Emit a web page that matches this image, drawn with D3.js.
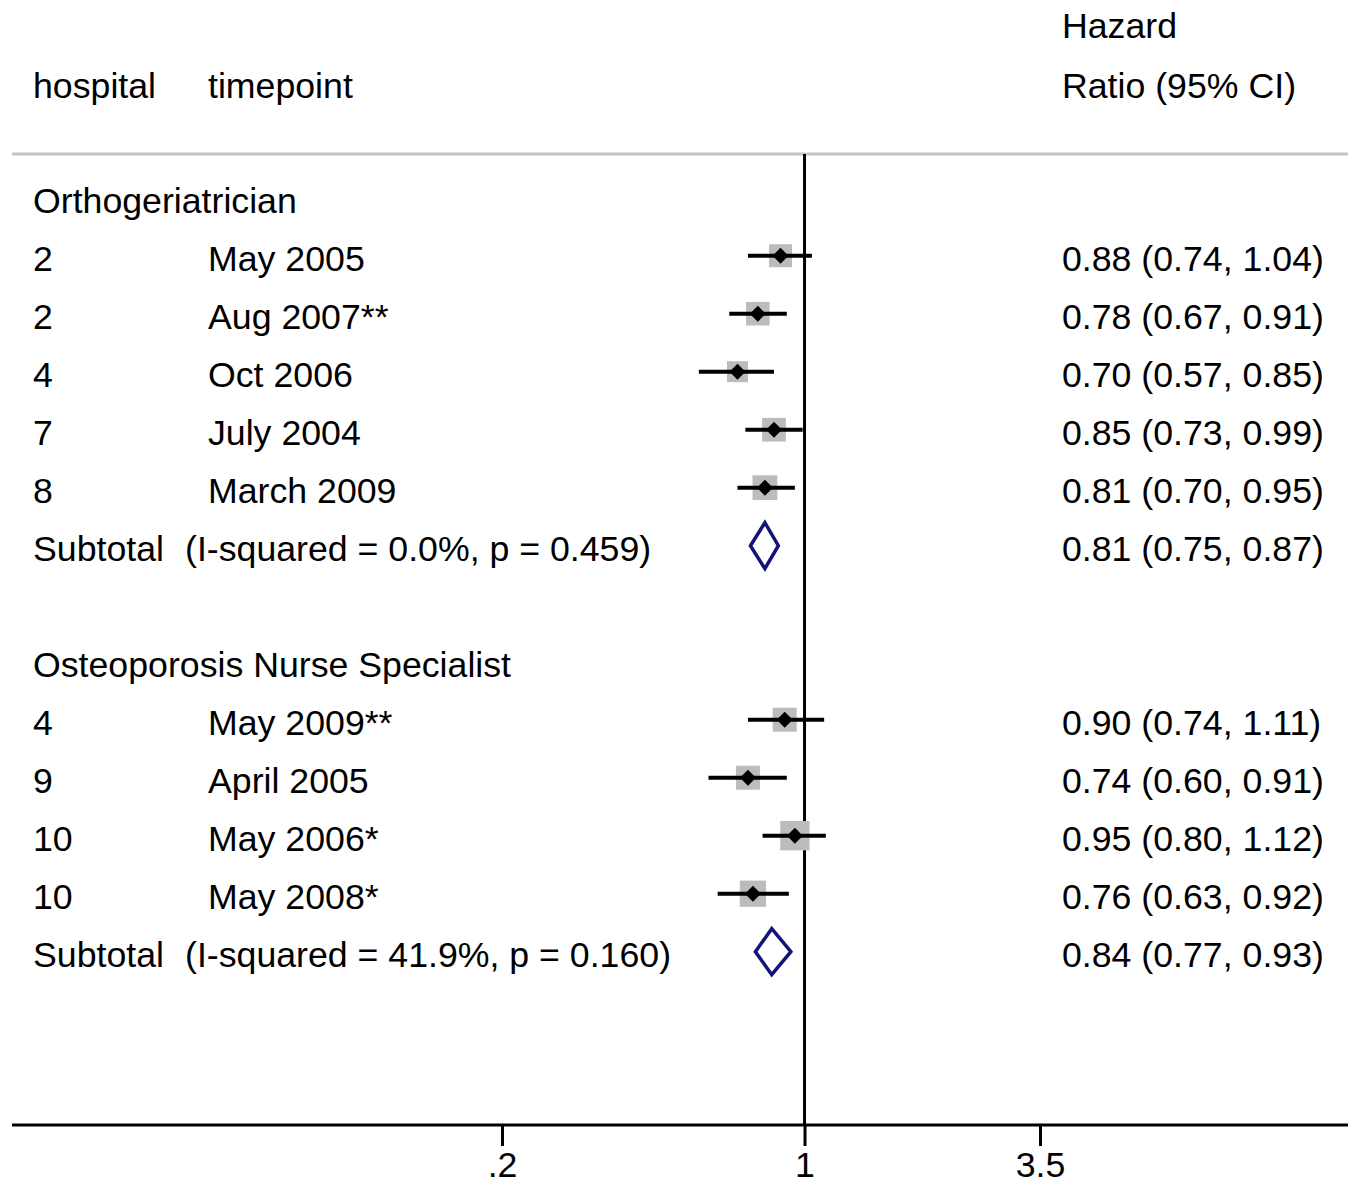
<!DOCTYPE html>
<html>
<head>
<meta charset="utf-8">
<script src="https://cdn.jsdelivr.net/npm/d3@7"></script>
<style>
	body { margin: 0; background: #fff; }
	text { font-family: "Liberation Sans", Arial, Helvetica, sans-serif; font-size: 35.7px; fill: #000; }
</style>
</head>
<body>
<div id="forest"></div>
<script>
// data
var groups = ["Orthogeriatrician", "Osteoporosis Nurse Specialist"];
var hospital = ["2", "2", "4", "7", "8", "4", "9", "10", "10"];
var timepoint = ["May 2005", "Aug 2007**", "Oct 2006", "July 2004", "March 2009",
	"May 2009**", "April 2005", "May 2006*", "May 2008*"];
var studyGroup = [0, 0, 0, 0, 0, 1, 1, 1, 1];
var hr = [0.88, 0.78, 0.70, 0.85, 0.81, 0.90, 0.74, 0.95, 0.76];
var lo = [0.74, 0.67, 0.57, 0.73, 0.70, 0.74, 0.60, 0.80, 0.63];
var hi = [1.04, 0.91, 0.85, 0.99, 0.95, 1.11, 0.91, 1.12, 0.92];
var weight = [19.6, 20.6, 16.3, 20.8, 22.7, 21.3, 21.3, 31.9, 25.5];
var subHr = [0.81, 0.84];
var subLo = [0.75, 0.77];
var subHi = [0.87, 0.93];
var subLabel = ["(I-squared = 0.0%, p = 0.459)", "(I-squared = 41.9%, p = 0.160)"];
var tickValues = [0.2, 1, 3.5];
var tickLabels = [".2", "1", "3.5"];

var width = 1348
var height = 1188

var svg = d3.select("#forest")
	.append("svg")
	.attr("width", width)
	.attr("height", height);

// x: log scale for hazard ratio
var x = d3.scaleLog().domain([0.2, 3.5]).range([502, 1040]);

// build the rows: group header, studies, subtotal, blank
var rows = [];
groups.forEach(function (g, gi) {
	rows.push({ type: "head", label: g });
	studyGroup.forEach(function (s, i) {
		if (s == gi) rows.push({ type: "study", i: i });
	});
	rows.push({ type: "sub", g: gi });
	if (gi < groups.length - 1) rows.push({ type: "blank" });
});
rows.forEach(function (r, k) { r.k = k; });

var y = d3.scaleLinear().domain([0, 1]).range([197.7, 255.7]);
var boxSize = d3.scaleSqrt().domain([0, 100]).range([0, 52]);

function fmt(v) { return d3.format(".2f")(v); }
function ciText(a, b, c) { return fmt(a) + " (" + fmt(b) + ", " + fmt(c) + ")"; }

// header
svg.append("text").attr("x", 33).attr("y", 98).text("hospital");
svg.append("text").attr("x", 208).attr("y", 98).text("timepoint");
svg.append("text").attr("x", 1062).attr("y", 38).text("Hazard");
svg.append("text").attr("x", 1062).attr("y", 98).text("Ratio (95% CI)");

svg.append("line")
	.attr("x1", 12).attr("x2", 1348)
	.attr("y1", 154).attr("y2", 154)
	.style("stroke", "#c4c4c4")
	.style("stroke-width", 3);

// null line
svg.append("line")
	.attr("x1", x(1)).attr("x2", x(1))
	.attr("y1", 154).attr("y2", 1125)
	.style("stroke", "#000")
	.style("stroke-width", 3);

var studies = rows.filter(function (r) { return r.type == "study"; });
var subs = rows.filter(function (r) { return r.type == "sub"; });

// left text
rows.filter(function (r) { return r.type == "head"; }).forEach(function (r) {
	svg.append("text").attr("x", 33).attr("y", y(r.k) + 15).text(r.label);
});
studies.forEach(function (r) {
	svg.append("text").attr("x", 33).attr("y", y(r.k) + 15).text(hospital[r.i]);
	svg.append("text").attr("x", 208).attr("y", y(r.k) + 15).text(timepoint[r.i]);
	svg.append("text").attr("x", 1062).attr("y", y(r.k) + 15).text(ciText(hr[r.i], lo[r.i], hi[r.i]));
});
subs.forEach(function (r) {
	svg.append("text").attr("x", 33).attr("y", y(r.k) + 15).text("Subtotal");
	svg.append("text").attr("x", 185).attr("y", y(r.k) + 15).text(subLabel[r.g]);
	svg.append("text").attr("x", 1062).attr("y", y(r.k) + 15).text(ciText(subHr[r.g], subLo[r.g], subHi[r.g]));
});

// weight boxes
svg.selectAll("rect.box")
	.data(studies)
	.enter()
	.append("rect")
	.attr("class", "box")
	.attr("x", function (d) { return x(hr[d.i]) - boxSize(weight[d.i]) / 2; })
	.attr("y", function (d) { return y(d.k) - boxSize(weight[d.i]) / 2; })
	.attr("width", function (d) { return boxSize(weight[d.i]); })
	.attr("height", function (d) { return boxSize(weight[d.i]); })
	.style("fill", "#bcbcbc");

// CI lines
svg.selectAll("line.ci")
	.data(studies)
	.enter()
	.append("line")
	.attr("class", "ci")
	.attr("x1", function (d) { return x(lo[d.i]); })
	.attr("x2", function (d) { return x(hi[d.i]); })
	.attr("y1", function (d) { return y(d.k); })
	.attr("y2", function (d) { return y(d.k); })
	.style("stroke", "#000")
	.style("stroke-width", 4);

// point estimates
svg.selectAll("path.pt")
	.data(studies)
	.enter()
	.append("path")
	.attr("class", "pt")
	.attr("d", function (d) {
		var cx = x(hr[d.i]), cy = y(d.k), r = 8;
		return "M" + (cx - r) + "," + cy + "L" + cx + "," + (cy - r) + "L" + (cx + r) + "," + cy + "L" + cx + "," + (cy + r) + "Z";
	})
	.style("fill", "#000");

// subtotal diamonds
svg.selectAll("path.sub")
	.data(subs)
	.enter()
	.append("path")
	.attr("class", "sub")
	.attr("d", function (d) {
		var cy = y(d.k), h = 23;
		return "M" + x(subLo[d.g]) + "," + cy + "L" + x(subHr[d.g]) + "," + (cy - h) +
			"L" + x(subHi[d.g]) + "," + cy + "L" + x(subHr[d.g]) + "," + (cy + h) + "Z";
	})
	.style("fill", "#fff")
	.style("stroke", "#141478")
	.style("stroke-width", 3.5);

// x axis
svg.append("line")
	.attr("x1", 12).attr("x2", 1348)
	.attr("y1", 1125).attr("y2", 1125)
	.style("stroke", "#000")
	.style("stroke-width", 3);

var axis = svg.append("g")
	.attr("transform", "translate(0,1125)")
	.call(d3.axisBottom(x)
		.tickValues(tickValues)
		.tickSize(21)
		.tickPadding(6)
		.tickFormat(function (d, i) { return tickLabels[i]; }));
axis.select(".domain").remove();
axis.selectAll(".tick line").style("stroke", "#000").style("stroke-width", 3);
axis.selectAll(".tick text")
	.attr("font-family", null).attr("font-size", null)
	.style("font-family", "'Liberation Sans', Arial, sans-serif")
	.style("font-size", "35.7px")
	.style("fill", "#000");
</script>
</body>
</html>
